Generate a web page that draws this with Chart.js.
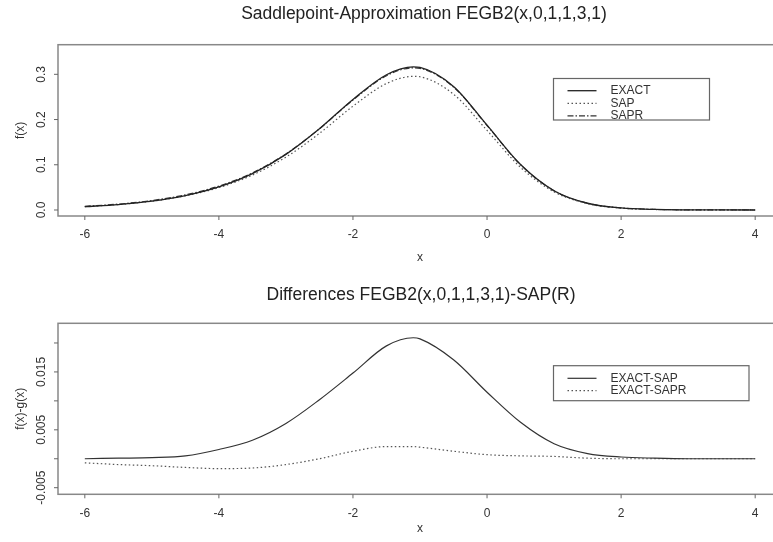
<!DOCTYPE html>
<html>
<head>
<meta charset="utf-8">
<script src="https://cdn.jsdelivr.net/npm/chart.js@4/dist/chart.umd.min.js"></script>
<style>
  html, body { margin: 0; padding: 0; background: #fff; overflow: hidden; }
  body { width: 773px; height: 542px; position: relative; }
  canvas { position: absolute; left: 0; }
</style>
</head>
<body>
<canvas id="top" width="840" height="270" style="top:0"></canvas>
<canvas id="bottom" width="840" height="272" style="top:270px"></canvas>
<script>
const xVals = [-6, -5.5, -5, -4.5, -4, -3.5, -3, -2.5, -2, -1.5, -1.1, -1, -0.5, 0, 0.5, 1, 1.5, 2, 2.5, 3, 3.5, 4];

// top panel: densities
const exact = [0.00736, 0.01206, 0.01968, 0.03189, 0.05110, 0.08043, 0.12298, 0.17961, 0.24435, 0.29908, 0.31641, 0.31525, 0.27316, 0.18750, 0.10049, 0.04266, 0.01489, 0.00448, 0.00121, 0.00031, 0.00007, 0.00002];
const sap   = [0.00736, 0.01196, 0.01948, 0.03139, 0.04950, 0.07723, 0.11688, 0.16941, 0.22955, 0.27958, 0.29551, 0.29455, 0.25606, 0.17600, 0.09419, 0.04006, 0.01399, 0.00418, 0.00111, 0.00031, 0.00007, 0.00002];
const sapr  = [0.00806, 0.01306, 0.02088, 0.03339, 0.05280, 0.08203, 0.12398, 0.17961, 0.24305, 0.29698, 0.31431, 0.31325, 0.27186, 0.18680, 0.09999, 0.04226, 0.01479, 0.00448, 0.00121, 0.00031, 0.00007, 0.00002];

// bottom panel: differences
const diffSap  = [0.0000, 0.0001, 0.0002, 0.0005, 0.0016, 0.0032, 0.0061, 0.0102, 0.0148, 0.0195, 0.0209, 0.0207, 0.0171, 0.0115, 0.0063, 0.0026, 0.0009, 0.0003, 0.0001, 0, 0, 0];
const diffSapr = [-0.0007, -0.0010, -0.0012, -0.0015, -0.0017, -0.0016, -0.0010, 0.0000, 0.0013, 0.0021, 0.0021, 0.0020, 0.0013, 0.0007, 0.0005, 0.0004, 0.0001, 0, 0, 0, 0, 0];

// axes
const xTicks = [-6, -4, -2, 0, 2, 4];
const yTicksTop = [0, 0.1, 0.2, 0.3];
const yLabelsTop = ['0.0', '0.1', '0.2', '0.3'];
const yTicksBottom = [-0.005, 0, 0.005, 0.01, 0.015, 0.02];
const yLabelsBottom = ['-0.005', '', '0.005', '', '0.015', ''];

const FONT = '"Liberation Sans", Arial, sans-serif';
const INK = '#333';

function pts(ys) {
  return xVals.map((x, i) => ({x: x, y: ys[i]}));
}

function lineSet(label, ys, dash, color, width) {
  return {
    label: label,
    data: pts(ys),
    borderColor: color,
    borderWidth: width,
    borderDash: dash,
    pointRadius: 0,
    fill: false,
    cubicInterpolationMode: 'monotone',
  };
}

// draws the R-style frame, ticks, labels, titles and legend
function frame(opts) {
  return {
    id: 'frame',
    afterDraw(chart) {
      const ctx = chart.ctx;
      const a = chart.chartArea;
      const xs = chart.scales.x;
      const ys = chart.scales.y;
      const midX = (a.left + a.right) / 2;
      ctx.save();

      // box
      ctx.strokeStyle = '#888';
      ctx.lineWidth = 1.5;
      ctx.strokeRect(a.left, a.top, a.right - a.left, a.bottom - a.top);

      // x ticks
      ctx.strokeStyle = '#666';
      ctx.lineWidth = 1;
      ctx.fillStyle = INK;
      ctx.font = '12px ' + FONT;
      ctx.textAlign = 'center';
      ctx.textBaseline = 'middle';
      xTicks.forEach(v => {
        const px = xs.getPixelForValue(v);
        ctx.beginPath();
        ctx.moveTo(px, a.bottom);
        ctx.lineTo(px, a.bottom + 4);
        ctx.stroke();
        ctx.fillText(String(v), px, a.bottom + 19);
      });
      ctx.fillText('x', midX, a.bottom + opts.xTitleGap);

      // y ticks, rotated labels
      opts.yTicks.forEach((v, i) => {
        const py = ys.getPixelForValue(v);
        ctx.beginPath();
        ctx.moveTo(a.left, py);
        ctx.lineTo(a.left - 4, py);
        ctx.stroke();
        if (opts.yLabels[i]) {
          ctx.save();
          ctx.translate(42, py);
          ctx.rotate(-Math.PI / 2);
          ctx.fillText(opts.yLabels[i], 0, 0);
          ctx.restore();
        }
      });
      ctx.save();
      ctx.translate(21, (a.top + a.bottom) / 2);
      ctx.rotate(-Math.PI / 2);
      ctx.fillText(opts.yTitle, 0, 0);
      ctx.restore();

      // main title
      ctx.font = '17.5px ' + FONT;
      ctx.fillStyle = '#222';
      ctx.fillText(opts.title, midX + opts.titleDx, opts.titleY);

      // legend
      const L = opts.legend;
      ctx.strokeStyle = '#666';
      ctx.lineWidth = 1.2;
      ctx.strokeRect(L.x, L.y, L.w, L.h);
      ctx.font = '12px ' + FONT;
      ctx.textAlign = 'left';
      ctx.fillStyle = INK;
      chart.data.datasets.forEach((ds, i) => {
        const ly = L.y + L.first + i * L.step;
        ctx.strokeStyle = ds.borderColor;
        ctx.lineWidth = ds.borderWidth;
        ctx.setLineDash(ds.borderDash);
        ctx.beginPath();
        ctx.moveTo(L.x + 14, ly);
        ctx.lineTo(L.x + 43, ly);
        ctx.stroke();
        ctx.setLineDash([]);
        ctx.fillText(ds.label, L.x + 57, ly);
      });
      ctx.restore();
    }
  };
}

function makeChart(id, datasets, yMin, yMax, pad, plug) {
  return new Chart(document.getElementById(id), {
    type: 'line',
    data: {datasets: datasets},
    options: {
      responsive: false,
      animation: false,
      events: [],
      layout: {padding: pad},
      plugins: {legend: {display: false}, title: {display: false}, tooltip: {enabled: false}},
      scales: {
        x: {type: 'linear', min: -6.4, max: 4.4, display: false},
        y: {type: 'linear', min: yMin, max: yMax, display: false},
      },
    },
    plugins: [plug],
  });
}

makeChart('top', [
  lineSet('EXACT', exact, [], '#222', 1.3),
  lineSet('SAP', sap, [1.5, 2.5], '#555', 1.2),
  lineSet('SAPR', sapr, [6, 2, 1.5, 2], '#333', 1.2),
], -0.0133, 0.3655, {left: 58, right: 58, top: 44.7, bottom: 54}, frame({
  title: 'Saddlepoint-Approximation FEGB2(x,0,1,1,3,1)',
  titleY: 14,
  titleDx: 4,
  yTicks: yTicksTop,
  yLabels: yLabelsTop,
  yTitle: 'f(x)',
  xTitleGap: 42,
  legend: {x: 553.5, y: 78.5, w: 156, h: 41.5, first: 12.2, step: 12.6},
}));

makeChart('bottom', [
  lineSet('EXACT-SAP', diffSap, [], '#333', 1.2),
  lineSet('EXACT-SAPR', diffSapr, [1.5, 2.5], '#555', 1.2),
], -0.00614, 0.0234, {left: 58, right: 58, top: 53.3, bottom: 47.7}, frame({
  title: 'Differences FEGB2(x,0,1,1,3,1)-SAP(R)',
  titleY: 25.5,
  titleDx: 1,
  yTicks: yTicksBottom,
  yLabels: yLabelsBottom,
  yTitle: 'f(x)-g(x)',
  xTitleGap: 34,
  legend: {x: 553.5, y: 95.7, w: 195.5, h: 35, first: 12.6, step: 12.4},
}));
</script>
</body>
</html>
